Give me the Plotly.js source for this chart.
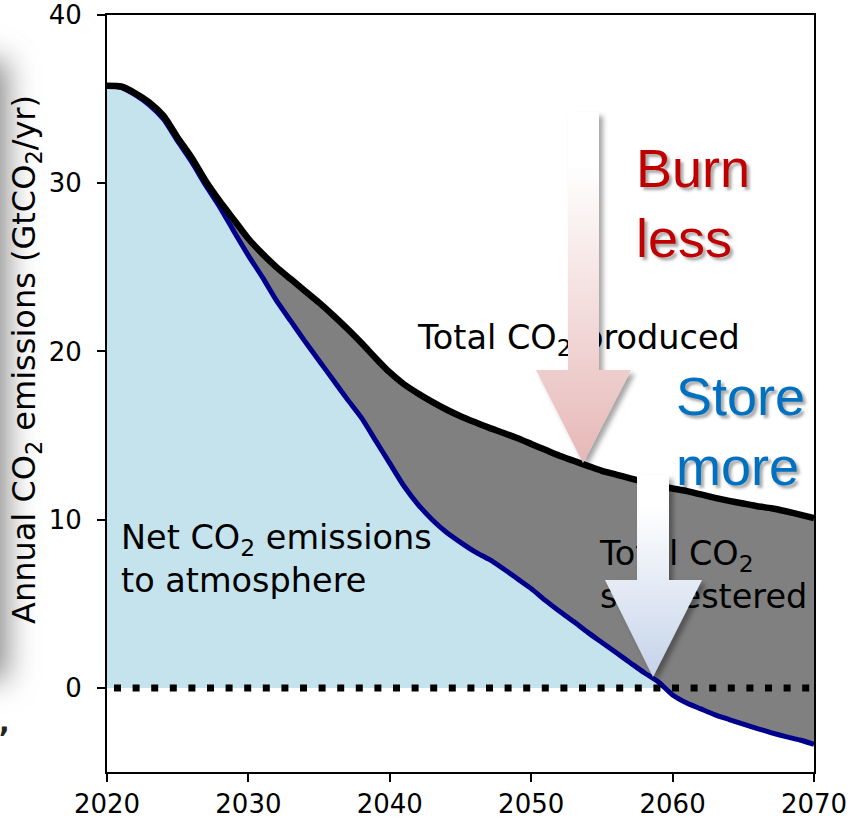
<!DOCTYPE html>
<html>
<head>
<meta charset="utf-8">
<script src="https://cdn.plot.ly/plotly-3.0.1.min.js"></script>
<style>html,body{margin:0;padding:0;background:#fff;}#chart{width:851px;height:818px;}</style>
</head>
<body>
<div id="chart"></div>
<script>
// ---- data ----
const years = [2020,2021,2022,2023,2024,2025,2026,2027,2028,2029,
               2030,2031,2032,2033,2034,2035,2036,2037,2038,2039,
               2040,2041,2042,2043,2044,2045,2046,2047,2048,2049,
               2050,2051,2052,2053,2054,2055,2056,2057,2058,2059,
               2060,2061,2062,2063,2064,2065,2066,2067,2068,2069,2070];
const totalProduced = [35.8,35.75,35.35,34.8,34.0,32.7,31.5,30.1,28.9,27.8,
                       26.7,25.8,25.0,24.3,23.6,22.9,22.15,21.35,20.5,19.6,
                       18.75,18.05,17.5,17.0,16.55,16.15,15.8,15.47,15.17,14.85,
                       14.5,14.15,13.8,13.5,13.2,12.9,12.68,12.46,12.25,12.05,
                       11.85,11.7,11.5,11.3,11.12,10.96,10.8,10.68,10.5,10.3,10.1];
const netEmissions = [35.8,35.7,35.25,34.65,33.8,32.5,31.25,29.85,28.55,27.1,
                      25.7,24.4,23.0,21.8,20.6,19.45,18.3,17.15,16.05,14.7,
                      13.35,12.0,10.9,10.0,9.25,8.65,8.1,7.65,7.1,6.5,
                      5.9,5.2,4.55,3.94,3.3,2.7,2.1,1.5,0.9,0.35,
                      -0.42,-0.9,-1.25,-1.6,-1.88,-2.15,-2.42,-2.67,-2.9,-3.1,-3.35];
const xTicks = [2020,2030,2040,2050,2060,2070];
const yTicks = [0,10,20,30,40];
const xRange = [2020, 2070];
const yRange = [-5, 40];

const labelNet = 'Net CO<sub>2</sub> emissions<br>to atmosphere';
const labelProduced = 'Total CO<sub>2</sub> produced';
const labelSequestered = 'Total CO<sub>2</sub><br>sequestered';
const labelBurn = 'Burn<br>less';
const labelStore = 'Store<br>more';
const labelY = 'Annual CO<sub>2</sub> emissions (GtCO<sub>2</sub>/yr)';

// ---- layout geometry helpers (pixel -> data / paper) ----
const W = 851, H = 818;
const M = {l: 107, r: 37, t: 15, b: 46};
const PW = W - M.l - M.r, PH = H - M.t - M.b;
const X = px => xRange[0] + (px - M.l) * (xRange[1] - xRange[0]) / PW;
const Y = py => yRange[1] - (py - M.t) * (yRange[1] - yRange[0]) / PH;
const DX = w => w * (xRange[1] - xRange[0]) / PW;
const DY = h => h * (yRange[1] - yRange[0]) / PH;
const PXp = px => (px - M.l) / PW;
const PYp = py => (H - M.b - py) / PH;

function svgUri(s){ return 'data:image/svg+xml;charset=utf-8,' + encodeURIComponent(s); }

const arrowSvg = (w, h, path, c2) => `<svg xmlns="http://www.w3.org/2000/svg" width="${w}" height="${h}" viewBox="0 0 ${w} ${h}">
<defs><linearGradient id="g" x1="0" y1="0" x2="0" y2="1"><stop offset="0" stop-color="#ffffff"/><stop offset="0.15" stop-color="#ffffff"/><stop offset="1" stop-color="${c2}"/></linearGradient>
<filter id="s" x="-30%" y="-10%" width="160%" height="125%"><feDropShadow dx="4" dy="4" stdDeviation="2.5" flood-color="#000" flood-opacity="0.35"/></filter></defs>
<path d="${path}" fill="url(#g)" filter="url(#s)"/></svg>`;

const pinkArrow = arrowSvg(110, 365, 'M38 4 H69 V262 H101 L53 355 L6 262 H38 Z', '#E6B8B7');
const blueArrow = arrowSvg(112, 216, 'M37 4 H69 V109 H102 L53 206 L5 109 H37 Z', '#C5D3E9');
const sideShadow = `<svg xmlns="http://www.w3.org/2000/svg" width="80" height="760" viewBox="0 0 80 760">
<defs><filter id="b" x="-200%" y="-20%" width="500%" height="140%"><feGaussianBlur stdDeviation="15"/></filter></defs>
<rect x="-45" y="60" width="52" height="620" fill="#8a8a8a" filter="url(#b)"/></svg>`;

const txtFont = {family: 'DejaVu Sans', size: 33.5, color: '#000'};

const traces = [
  {x: years, y: netEmissions, type: 'scatter', mode: 'lines', fill: 'tozeroy',
   fillcolor: '#C5E3EC', line: {color: '#00008B', width: 5, shape: 'spline', smoothing: 0.6}, hoverinfo: 'skip'},
  {x: years, y: totalProduced, type: 'scatter', mode: 'lines', fill: 'tonexty',
   fillcolor: '#808080', line: {color: '#000000', width: 6.5, shape: 'spline', smoothing: 0.6}, hoverinfo: 'skip'},
  {x: [X(121)], y: [Y(562)], type: 'scatter', mode: 'text', text: [labelNet],
   textposition: 'middle right', textfont: txtFont, hoverinfo: 'skip'},
  {x: [X(418)], y: [Y(341)], type: 'scatter', mode: 'text', text: [labelProduced],
   textposition: 'middle right', textfont: txtFont, hoverinfo: 'skip'},
  {x: [X(600)], y: [Y(578)], type: 'scatter', mode: 'text', text: [labelSequestered],
   textposition: 'middle right', textfont: txtFont, hoverinfo: 'skip'}
];

const axisCommon = {
  showgrid: false, zeroline: false, showline: true, linecolor: '#000', linewidth: 2,
  mirror: true, ticks: 'outside', ticklen: 8, tickwidth: 2, tickcolor: '#000',
  tickfont: {family: 'DejaVu Sans', size: 26, color: '#000'}, fixedrange: true
};

const layout = {
  width: W, height: H,
  margin: M,
  paper_bgcolor: '#fff', plot_bgcolor: '#fff',
  showlegend: false,
  xaxis: Object.assign({}, axisCommon, {range: xRange, tickvals: xTicks, ticklabelstandoff: 0}),
  yaxis: Object.assign({}, axisCommon, {range: yRange, tickvals: yTicks, ticklabelstandoff: 10}),
  shapes: [
    {type: 'line', xref: 'x', yref: 'y', x0: xRange[0], x1: xRange[1], y0: 0, y1: 0,
     line: {color: '#000', width: 7, dash: '0px,7px,7px,4.6px'}, layer: 'above'}
  ],
  images: [
    {source: svgUri(pinkArrow), xref: 'x', yref: 'y', x: X(530), y: Y(108),
     sizex: DX(110), sizey: DY(365), xanchor: 'left', yanchor: 'top', sizing: 'stretch', layer: 'above'},
    {source: svgUri(blueArrow), xref: 'x', yref: 'y', x: X(600), y: Y(471),
     sizex: DX(112), sizey: DY(216), xanchor: 'left', yanchor: 'top', sizing: 'stretch', layer: 'above'},
    {source: svgUri(sideShadow), xref: 'paper', yref: 'paper', x: PXp(0), y: PYp(0),
     sizex: 80 / PW, sizey: 760 / PH, xanchor: 'left', yanchor: 'top', sizing: 'stretch', layer: 'below'}
  ],
  annotations: [
    {text: labelBurn, xref: 'x', yref: 'y', x: X(634), y: Y(203), xanchor: 'left', yanchor: 'middle',
     align: 'left', showarrow: false,
     font: {family: 'Liberation Sans', size: 54, color: '#C00000', shadow: '3px 3px 3px rgba(0,0,0,0.35)'}},
    {text: labelStore, xref: 'x', yref: 'y', x: X(674), y: Y(431), xanchor: 'left', yanchor: 'middle',
     align: 'left', showarrow: false,
     font: {family: 'Liberation Sans', size: 54, color: '#0070C0', shadow: '3px 3px 3px rgba(0,0,0,0.35)'}},
    {text: labelY, xref: 'paper', yref: 'paper', x: PXp(26), y: PYp(360), xanchor: 'center', yanchor: 'middle',
     textangle: -90, showarrow: false, font: {family: 'DejaVu Sans', size: 32, color: '#000'}},
    {text: ',', xref: 'paper', yref: 'paper', x: PXp(4), y: PYp(722), xanchor: 'center', yanchor: 'middle',
     showarrow: false, font: {family: 'DejaVu Sans', size: 28, color: '#222', weight: 'bold'}}
  ]
};

Plotly.newPlot('chart', traces, layout, {staticPlot: true, displayModeBar: false});
</script>
</body>
</html>
